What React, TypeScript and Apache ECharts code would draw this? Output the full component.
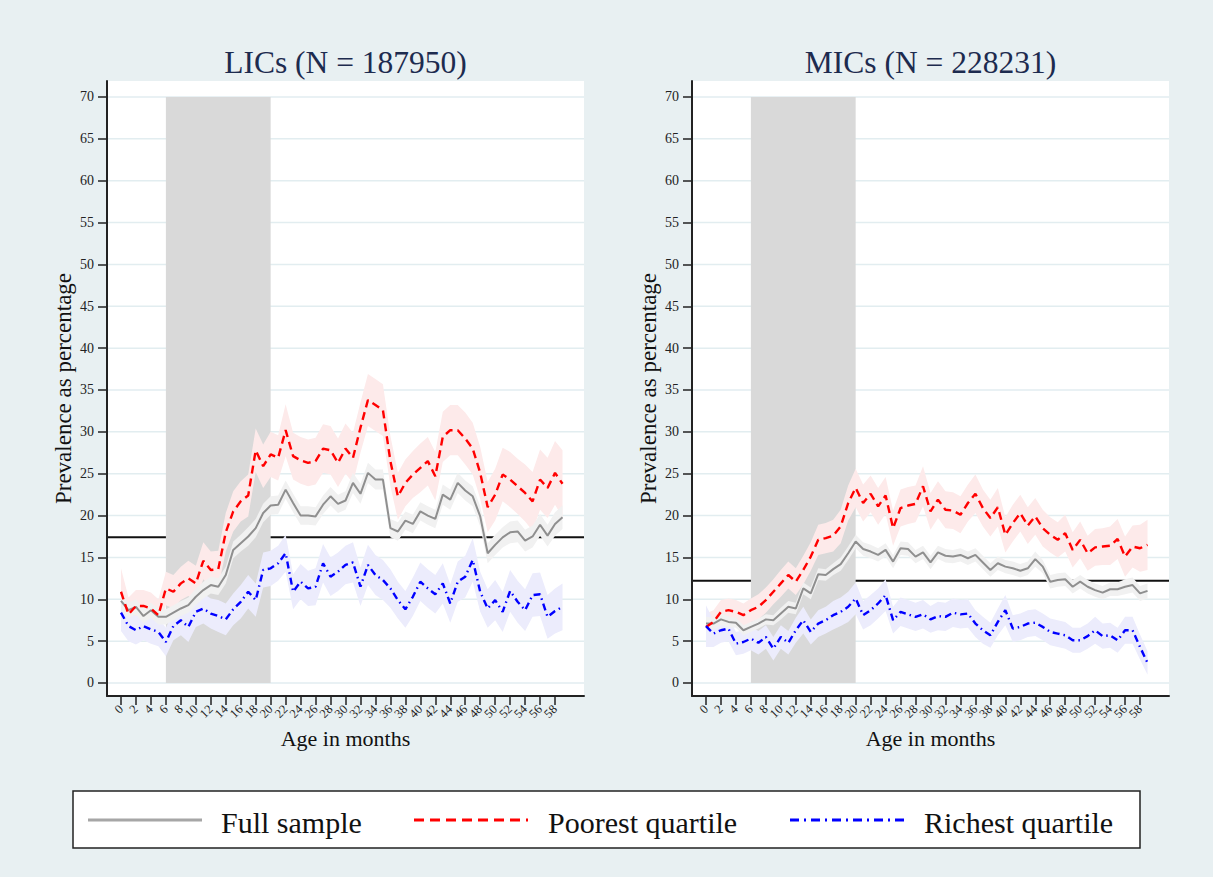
import React, { useEffect, useRef } from "react";
import * as echarts from "echarts";

// ---------- data ----------
const months = [
  0, 1, 2, 3, 4, 5, 6, 7, 8, 9, 10, 11, 12, 13, 14, 15, 16, 17, 18, 19,
  20, 21, 22, 23, 24, 25, 26, 27, 28, 29, 30, 31, 32, 33, 34, 35, 36, 37, 38, 39,
  40, 41, 42, 43, 44, 45, 46, 47, 48, 49, 50, 51, 52, 53, 54, 55, 56, 57, 58, 59,
];
const xTickLabels = [0, 2, 4, 6, 8, 10, 12, 14, 16, 18, 20, 22, 24, 26, 28, 30, 32, 34, 36, 38, 40, 42, 44, 46, 48, 50, 52, 54, 56, 58];
const yTickLabels = [0, 5, 10, 15, 20, 25, 30, 35, 40, 45, 50, 55, 60, 65, 70];
const shadedAges = [6, 20];
const shadedRange = [0, 70];
const panelTitles = ["LICs (N = 187950)", "MICs (N = 228231)"];
const referenceLevels = [17.4, 12.2];
const legendLabels = ["Full sample", "Poorest quartile", "Richest quartile"];

const licFull = [
  9.8, 8.7, 9.1, 8.0, 8.7, 7.9, 7.9, 8.4, 8.9, 9.3, 10.3, 11.1, 11.7, 11.5, 12.9, 15.9, 16.7, 17.5, 18.5, 20.3,
  21.2, 21.3, 23.1, 21.5, 20.0, 20.0, 19.9, 21.3, 22.3, 21.4, 21.8, 23.9, 22.6, 25.1, 24.3, 24.3, 18.5, 18.1, 19.4, 19.0,
  20.5, 20.0, 19.6, 22.5, 21.9, 23.9, 23.0, 22.3, 19.9, 15.5, 16.5, 17.4, 18.0, 18.1, 17.0, 17.5, 18.9, 17.6, 19.0, 19.8,
];
const licPoor = [
  10.9, 8.2, 9.2, 9.2, 8.9, 8.1, 11.3, 10.9, 11.9, 12.5, 11.9, 14.6, 13.5, 13.6, 18.0, 20.5, 21.7, 22.4, 27.8, 25.9,
  27.3, 26.9, 30.2, 27.1, 26.6, 26.3, 26.5, 28.0, 27.8, 26.3, 28.0, 26.9, 30.5, 33.8, 33.2, 32.6, 26.5, 22.3, 23.9, 24.9,
  25.7, 26.5, 24.7, 29.4, 30.2, 30.2, 29.2, 28.0, 25.1, 21.0, 22.5, 24.9, 24.3, 23.5, 22.7, 21.7, 24.3, 23.3, 25.1, 23.8,
];
const licRich = [
  8.4, 6.8, 6.3, 6.8, 6.4, 6.1, 4.9, 6.8, 7.5, 6.7, 8.5, 8.9, 8.3, 8.0, 7.6, 8.8, 9.7, 10.9, 9.9, 13.5,
  13.7, 14.3, 15.5, 10.9, 12.1, 11.3, 11.5, 14.3, 12.7, 13.3, 14.1, 14.4, 11.5, 14.1, 12.9, 12.3, 11.3, 9.9, 8.8, 10.3,
  12.1, 11.3, 10.6, 11.9, 9.5, 12.1, 12.7, 14.7, 10.9, 8.9, 9.9, 8.5, 11.0, 9.7, 8.7, 10.5, 10.6, 7.9, 8.6, 9.1,
];
const licFullCI = [
  1.0, 0.9, 0.9, 0.9, 0.9, 0.9, 0.9, 0.9, 0.9, 0.9, 1.0, 1.0, 1.0, 1.0, 1.0, 1.0, 1.0, 1.1, 1.1, 1.1,
  1.1, 1.1, 1.1, 1.1, 1.1, 1.1, 1.1, 1.1, 1.1, 1.1, 1.1, 1.2, 1.2, 1.2, 1.2, 1.2, 1.1, 1.1, 1.1, 1.1,
  1.1, 1.1, 1.1, 1.2, 1.2, 1.2, 1.2, 1.2, 1.2, 1.2, 1.2, 1.2, 1.3, 1.3, 1.3, 1.3, 1.3, 1.3, 1.4, 1.4,
];
const licPoorCI = [
  2.8, 2.0, 1.9, 1.9, 1.9, 1.9, 2.0, 2.0, 2.0, 2.1, 2.1, 2.2, 2.2, 2.2, 2.3, 2.4, 2.4, 2.5, 2.6, 2.6,
  2.7, 2.7, 3.1, 2.8, 2.8, 2.8, 2.8, 2.9, 2.9, 2.9, 3.0, 3.0, 3.0, 3.1, 3.1, 3.1, 3.0, 2.8, 2.8, 2.8,
  2.9, 2.9, 2.9, 3.0, 3.0, 3.0, 3.1, 3.1, 3.1, 3.0, 3.1, 3.2, 3.3, 3.3, 3.4, 3.5, 3.6, 3.6, 3.8, 4.0,
];
const licRichCI = [
  2.2, 1.8, 1.7, 1.7, 1.7, 1.7, 1.7, 1.7, 1.8, 1.8, 1.8, 1.8, 1.8, 1.9, 1.9, 1.9, 2.0, 2.0, 2.0, 2.1,
  2.1, 2.1, 2.2, 2.1, 2.1, 2.1, 2.2, 2.3, 2.3, 2.3, 2.3, 2.4, 2.3, 2.4, 2.4, 2.4, 2.3, 2.2, 2.2, 2.3,
  2.3, 2.3, 2.3, 2.4, 2.3, 2.4, 2.5, 2.6, 2.4, 2.3, 2.4, 2.4, 2.5, 2.5, 2.5, 2.6, 2.6, 2.6, 2.7, 2.8,
];

const micFull = [
  7.1, 7.1, 7.6, 7.3, 7.2, 6.3, 6.7, 7.1, 7.6, 7.5, 8.3, 9.1, 8.9, 11.3, 10.7, 13.0, 12.9, 13.6, 14.2, 15.5,
  16.9, 16.0, 15.7, 15.3, 15.9, 14.5, 16.1, 16.0, 15.1, 15.6, 14.4, 15.6, 15.2, 15.1, 15.3, 14.9, 15.3, 14.4, 13.5, 14.3,
  13.9, 13.7, 13.4, 13.7, 14.8, 13.9, 12.1, 12.3, 12.4, 11.5, 12.1, 11.5, 11.1, 10.8, 11.2, 11.2, 11.5, 11.7, 10.7, 11.0,
];
const micPoor = [
  6.7, 7.3, 8.5, 8.7, 8.5, 8.1, 8.7, 9.1, 9.9, 10.9, 11.9, 12.9, 12.1, 13.5, 15.1, 17.1, 17.3, 17.6, 18.7, 21.5,
  23.3, 21.5, 22.6, 21.1, 22.4, 18.5, 20.9, 21.2, 21.4, 23.5, 20.5, 21.9, 20.7, 20.6, 20.1, 21.5, 22.6, 20.9, 19.7, 21.0,
  17.7, 19.1, 20.3, 18.8, 19.9, 18.5, 17.7, 17.1, 17.9, 15.9, 17.1, 15.5, 16.2, 16.3, 16.4, 17.2, 15.1, 16.3, 16.1, 16.5,
];
const micRich = [
  6.8, 5.9, 6.3, 6.5, 4.7, 4.9, 5.3, 4.8, 5.5, 4.1, 5.5, 4.8, 6.3, 7.5, 6.1, 7.1, 7.5, 8.1, 8.5, 9.1,
  10.1, 8.1, 8.7, 9.5, 10.5, 7.5, 8.5, 8.2, 7.9, 8.2, 7.6, 8.0, 7.9, 8.4, 8.2, 8.3, 7.1, 6.3, 5.7, 7.3,
  8.7, 6.5, 6.7, 7.1, 7.2, 6.7, 6.1, 5.9, 5.7, 5.1, 5.1, 5.6, 6.3, 5.6, 5.7, 5.1, 6.3, 6.3, 4.3, 2.4,
];
const micFullCI = [
  0.8, 0.7, 0.7, 0.6, 0.6, 0.6, 0.6, 0.6, 0.6, 0.6, 0.7, 0.7, 0.7, 0.7, 0.7, 0.7, 0.7, 0.7, 0.8, 0.8,
  0.8, 0.8, 0.8, 0.8, 0.8, 0.8, 0.8, 0.8, 0.8, 0.8, 0.8, 0.8, 0.8, 0.8, 0.8, 0.8, 0.8, 0.8, 0.8, 0.8,
  0.8, 0.8, 0.8, 0.8, 0.9, 0.8, 0.8, 0.8, 0.8, 0.8, 0.8, 0.8, 0.8, 0.8, 0.8, 0.8, 0.9, 0.9, 0.9, 0.9,
];
const micPoorCI = [
  1.6, 1.4, 1.4, 1.4, 1.4, 1.4, 1.4, 1.5, 1.5, 1.5, 1.6, 1.6, 1.6, 1.7, 1.7, 1.8, 1.8, 1.9, 2.0, 2.1,
  2.3, 2.2, 2.2, 2.2, 2.2, 2.1, 2.2, 2.2, 2.2, 2.4, 2.2, 2.2, 2.2, 2.2, 2.2, 2.2, 2.3, 2.2, 2.2, 2.3,
  2.1, 2.2, 2.2, 2.2, 2.2, 2.2, 2.1, 2.1, 2.2, 2.1, 2.2, 2.1, 2.2, 2.2, 2.3, 2.4, 2.4, 2.5, 2.8, 3.0,
];
const micRichCI = [
  2.5, 1.6, 1.5, 1.5, 1.4, 1.4, 1.4, 1.4, 1.4, 1.4, 1.4, 1.4, 1.5, 1.6, 1.5, 1.6, 1.6, 1.7, 1.7, 1.8,
  1.9, 1.7, 1.8, 1.8, 1.9, 1.6, 1.7, 1.7, 1.7, 1.7, 1.6, 1.7, 1.7, 1.7, 1.7, 1.7, 1.6, 1.6, 1.5, 1.6,
  1.8, 1.6, 1.6, 1.6, 1.6, 1.6, 1.6, 1.6, 1.6, 1.5, 1.5, 1.5, 1.6, 1.5, 1.5, 1.5, 1.6, 1.6, 1.5, 1.4,
];

// ---------- styling ----------
const SERIF = '"Liberation Serif", "Times New Roman", serif';
const BG = "#e8f0f2";
const GRID_LINE = "#e2edf0";
const COLORS = {
  full: { line: "#8f8f8f", band: "#f1f1f1" },
  poor: { line: "#ff0000", band: "#fdeaea" },
  rich: { line: "#0000ff", band: "#ececfc" },
};
const LINE_DASH = {
  full: "solid" as any,
  poor: [8, 5],
  rich: [7, 4, 1.5, 4],
};

const GRID_TOP = 81;
const GRID_H = 615;
const GRID_W = 477;
const GRID_LEFTS = [107, 692];
const X_MIN = -1.87;
const X_MAX = 61.87;

function bandSeries(p: number, mid: number[], ci: number[], color: string, z: number) {
  return {
    type: "custom",
    xAxisIndex: p,
    yAxisIndex: p,
    z,
    silent: true,
    data: months.map((m, i) => [m, mid[i] - ci[i], mid[i] + ci[i]]),
    encode: { x: 0, y: [1, 2] },
    renderItem: (params: any, api: any) => {
      if (params.dataIndex !== 0) return null;
      const pts: number[][] = [];
      for (let i = 0; i < months.length; i++) pts.push(api.coord([months[i], mid[i] + ci[i]]));
      for (let i = months.length - 1; i >= 0; i--) pts.push(api.coord([months[i], mid[i] - ci[i]]));
      return { type: "polygon", shape: { points: pts }, style: { fill: color, stroke: null } };
    },
  };
}

function hLineSeries(p: number, values: number[], color: string, width: number, z: number) {
  return {
    type: "custom",
    xAxisIndex: p,
    yAxisIndex: p,
    z,
    silent: true,
    data: values.map((v) => [0, v]),
    renderItem: (params: any, api: any) => {
      const cs = params.coordSys;
      const y = api.coord([0, api.value(1)])[1];
      return {
        type: "line",
        shape: { x1: cs.x, y1: y, x2: cs.x + cs.width, y2: y },
        style: { stroke: color, lineWidth: width },
      };
    },
  };
}

function shadeSeries(p: number) {
  return {
    type: "custom",
    xAxisIndex: p,
    yAxisIndex: p,
    z: 3,
    silent: true,
    data: [[shadedAges[0], shadedRange[0], shadedAges[1], shadedRange[1]]],
    renderItem: (_params: any, api: any) => {
      const a = api.coord([api.value(0), api.value(3)]);
      const b = api.coord([api.value(2), api.value(1)]);
      return {
        type: "rect",
        shape: { x: a[0], y: a[1], width: b[0] - a[0], height: b[1] - a[1] },
        style: { fill: "#d9d9d9" },
      };
    },
  };
}

function lineSeries(p: number, name: string, vals: number[], key: "full" | "poor" | "rich") {
  return {
    type: "line",
    name,
    xAxisIndex: p,
    yAxisIndex: p,
    z: 8,
    silent: true,
    showSymbol: false,
    symbol: "none",
    data: months.map((m, i) => [m, vals[i]]),
    lineStyle: {
      color: COLORS[key].line,
      width: key === "full" ? 2 : 2.4,
      type: LINE_DASH[key],
    },
  };
}

function panel(p: number, full: number[], poor: number[], rich: number[], fullCI: number[], poorCI: number[], richCI: number[]) {
  return [
    hLineSeries(p, yTickLabels, GRID_LINE, 1.5, 1),
    hLineSeries(p, [referenceLevels[p]], "#111111", 2, 2),
    shadeSeries(p),
    bandSeries(p, poor, poorCI, COLORS.poor.band, 4),
    bandSeries(p, rich, richCI, COLORS.rich.band, 5),
    bandSeries(p, full, fullCI, COLORS.full.band, 6),
    lineSeries(p, legendLabels[0], full, "full"),
    lineSeries(p, legendLabels[1], poor, "poor"),
    lineSeries(p, legendLabels[2], rich, "rich"),
  ];
}

const xLabelStyle = {
  show: true,
  showMinLabel: true,
  showMaxLabel: true,
  hideOverlap: false,
  rotate: 45,
  margin: 11,
  fontFamily: SERIF,
  fontSize: 12.5,
  color: "#222",
};

// primary axis: line, all ticks, every other label; secondary axis: the remaining labels
// (split so ECharts' first/last-label overlap check does not drop any label)
function xAxis(p: number) {
  return {
    type: "value",
    gridIndex: p,
    position: "bottom",
    min: X_MIN,
    max: X_MAX,
    z: 10,
    name: "Age in months",
    nameLocation: "middle",
    nameGap: 31,
    nameTextStyle: { fontFamily: SERIF, fontSize: 22, color: "#111" },
    axisLine: { show: true, onZero: false, lineStyle: { color: "#222", width: 2 } },
    axisTick: { show: true, customValues: xTickLabels, length: 9, lineStyle: { color: "#222", width: 1.5 } },
    axisLabel: { ...xLabelStyle, customValues: xTickLabels.filter((_, i) => i % 2 === 0) },
    splitLine: { show: false },
  };
}

function xAxisAlt(p: number) {
  return {
    type: "value",
    gridIndex: p,
    position: "bottom",
    offset: 0,
    min: X_MIN,
    max: X_MAX,
    z: 10,
    axisLine: { show: false, onZero: false },
    axisTick: { show: false },
    axisLabel: { ...xLabelStyle, customValues: xTickLabels.filter((_, i) => i % 2 === 1) },
    splitLine: { show: false },
  };
}

function yAxis(p: number) {
  return {
    type: "value",
    gridIndex: p,
    min: -1.553,
    max: 71.91,
    z: 10,
    name: "Prevalence as percentage",
    nameLocation: "middle",
    nameGap: 32,
    nameTextStyle: { fontFamily: SERIF, fontSize: 23, color: "#111" },
    axisLine: { show: true, onZero: false, lineStyle: { color: "#222", width: 2 } },
    axisTick: { show: true, customValues: yTickLabels, length: 9, lineStyle: { color: "#222", width: 1.5 } },
    axisLabel: {
      show: true,
      customValues: yTickLabels,
      showMinLabel: true,
      showMaxLabel: true,
      margin: 13,
      fontFamily: SERIF,
      fontSize: 14,
      color: "#222",
    },
    splitLine: { show: false },
  };
}

const legendItems = [
  { key: "full" as const, x0: 88, x1: 202, tx: 221 },
  { key: "poor" as const, x0: 414, x1: 528, tx: 548 },
  { key: "rich" as const, x0: 790, x1: 904, tx: 924 },
];
const LEGEND_Y = 820;

function buildOption() {
  const graphics: any[] = [];
  panelTitles.forEach((t, p) => {
    graphics.push({
      type: "text",
      x: GRID_LEFTS[p] + GRID_W / 2,
      y: 62,
      silent: true,
      style: {
        text: t,
        font: `31.5px ${SERIF}`,
        fill: "#1d2b4f",
        textAlign: "center",
        textVerticalAlign: "middle",
        align: "center",
        verticalAlign: "middle",
      },
    });
  });
  graphics.push({
    type: "rect",
    shape: { x: 73, y: 791, width: 1067, height: 57 },
    style: { fill: "#ffffff", stroke: "#222", lineWidth: 1.5 },
    silent: true,
  });
  legendItems.forEach((it, i) => {
    graphics.push({
      type: "line",
      silent: true,
      shape: { x1: it.x0, y1: LEGEND_Y, x2: it.x1, y2: LEGEND_Y },
      style: {
        stroke: it.key === "full" ? "#a6a6a6" : COLORS[it.key].line,
        lineWidth: 3,
        lineDash: it.key === "full" ? null : it.key === "poor" ? [10, 6] : [9, 5, 2, 5],
      },
    });
    graphics.push({
      type: "text",
      x: it.tx,
      y: LEGEND_Y + 2,
      silent: true,
      style: {
        text: legendLabels[i],
        font: `30px ${SERIF}`,
        fill: "#111",
        textAlign: "left",
        textVerticalAlign: "middle",
        align: "left",
        verticalAlign: "middle",
      },
    });
  });

  return {
    animation: false,
    backgroundColor: BG,
    textStyle: { fontFamily: SERIF },
    grid: GRID_LEFTS.map((l) => ({
      left: l,
      top: GRID_TOP,
      width: GRID_W,
      height: GRID_H,
      show: true,
      backgroundColor: "#ffffff",
      borderWidth: 0,
      containLabel: false,
    })),
    xAxis: [xAxis(0), xAxis(1), xAxisAlt(0), xAxisAlt(1)],
    yAxis: [yAxis(0), yAxis(1)],
    series: [
      ...panel(0, licFull, licPoor, licRich, licFullCI, licPoorCI, licRichCI),
      ...panel(1, micFull, micPoor, micRich, micFullCI, micPoorCI, micRichCI),
    ],
    graphic: graphics,
  };
}

export default function App() {
  const ref = useRef<HTMLDivElement>(null);
  useEffect(() => {
    if (!ref.current) return;
    const chart = echarts.init(ref.current, null, { renderer: "svg" });
    chart.setOption(buildOption() as any);
    return () => chart.dispose();
  }, []);
  return (
    <div
      ref={ref}
      style={{ position: "fixed", left: 0, top: 0, width: 1213, height: 877 }}
    />
  );
}
